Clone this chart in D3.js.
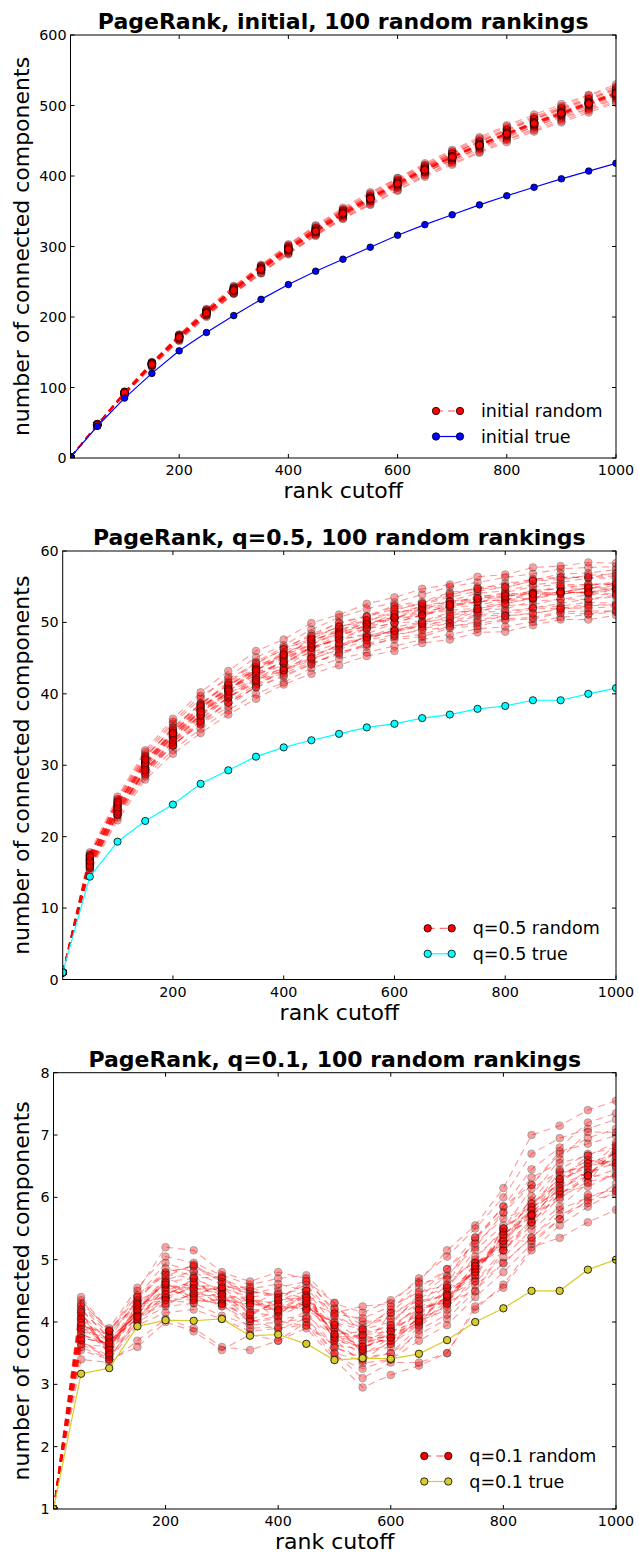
<!DOCTYPE html>
<html>
<head>
<meta charset="utf-8">
<script src="https://cdn.jsdelivr.net/npm/d3@7"></script>
<style>
  body { margin: 0; background: #fff; }
  svg text { font-family: "DejaVu Sans", sans-serif; fill: #000; }
</style>
</head>
<body>
<svg id="fig" width="639" height="1554"></svg>
<script>
// Rank cutoffs shared by all three panels
const cutoffs = [1, 50, 100, 150, 200, 250, 300, 350, 400, 450, 500, 550, 600, 650, 700, 750, 800, 850, 900, 950, 1000];
const xTickValues = [200, 400, 600, 800, 1000];

// Panel 1: initial graph
const initialTrue = [1, 45, 85, 120, 152, 178, 202, 225, 246, 265, 282, 299, 316, 331, 345, 359, 372, 384, 396, 407, 418];
const initialRandom = [
  [1,48,94,135,174,209,242,272,301,327,352,374,395,415,434,451,467,483,497,511,525],
  [1,46,90,130,168,202,234,263,291,317,341,362,383,402,420,437,452,467,481,495,509],
  [1,47,93,133,172,208,239,270,299,324,350,371,393,412,431,449,464,480,494,507,522],
  [1,47,91,132,169,205,236,266,293,320,344,364,386,405,423,441,456,470,485,498,513],
  [1,48,93,135,172,206,239,268,295,322,348,370,390,411,430,446,461,477,492,505,520],
  [1,46,92,132,171,207,240,271,298,325,351,371,391,412,429,445,462,476,489,504,517],
  [1,48,92,134,173,209,240,269,298,323,347,367,389,408,425,443,458,472,487,502,515],
  [1,47,94,136,175,211,244,273,302,329,353,375,397,416,435,453,470,484,499,514,527],
  [1,46,89,129,166,200,233,262,289,316,340,360,380,401,418,434,451,465,478,493,506],
  [1,47,92,133,171,206,238,268,296,322,347,368,389,409,427,444,460,475,489,503,517],
  [1,48,93,134,173,208,241,271,299,326,351,372,394,414,432,449,466,481,495,509,523],
  [1,46,91,131,169,203,235,266,295,320,345,367,389,408,427,445,460,474,487,500,515],
  [1,47,93,134,170,205,238,269,296,321,345,365,387,406,423,439,454,470,483,496,511],
  [1,48,94,136,174,210,241,272,299,326,350,370,392,413,432,448,465,481,496,509,524],
  [1,46,91,133,172,206,237,267,294,319,343,364,384,405,422,440,457,473,486,501,516],
  [1,47,90,131,168,203,234,265,292,318,344,366,386,407,426,442,459,475,490,505,518],
  [1,48,93,135,173,207,240,271,300,325,349,369,391,410,427,443,460,476,491,504,519],
  [1,46,92,134,173,208,241,270,297,322,346,368,390,411,428,444,459,473,488,501,514],
  [1,47,93,135,175,211,243,274,303,330,355,377,397,418,437,455,472,487,502,515,530],
  [1,46,90,131,167,202,233,262,290,315,339,359,379,399,416,433,448,463,476,490,504],
  [1,47,92,134,172,207,239,269,297,323,348,369,390,410,428,445,461,476,490,504,518],
  [1,47,91,132,170,205,237,267,295,321,346,367,388,408,426,443,459,474,488,502,516],
  [1,48,93,133,171,207,238,269,296,323,347,369,389,410,427,445,460,476,489,504,517],
  [1,46,92,133,170,206,237,268,295,322,346,368,388,409,426,444,459,475,488,503,516],
  [1,47,92,134,171,206,239,268,297,322,348,368,390,409,428,444,461,475,490,503,518],
  [1,47,93,132,172,205,238,267,296,321,347,367,389,408,427,443,460,474,489,502,517]
];

// Panel 2: q = 0.5
const q05True = [1, 14.4, 19.3, 22.2, 24.5, 27.4, 29.3, 31.2, 32.5, 33.5, 34.4, 35.3, 35.8, 36.6, 37.1, 37.9, 38.3, 39.1, 39.1, 40.0, 40.8];
const q05Random = [
  [1,17.3,25.2,31.5,35.8,39.3,42.4,45.1,46.8,49.0,50.7,51.9,52.8,53.9,55.0,55.6,56.3,56.8,57.5,57.7,57.8],
  [1,15.6,22.7,28.4,32.1,35.1,37.7,40.0,41.6,43.6,44.9,45.8,46.7,47.6,48.3,49.1,49.4,50.1,50.7,51.1,51.5],
  [1,16.8,24.6,30.4,34.8,37.8,41.0,43.7,45.2,47.5,48.8,50.3,51.2,52.3,53.0,54.1,54.4,55.3,55.6,56.2,56.2],
  [1,16.1,23.8,29.4,33.7,36.5,39.6,41.7,43.3,45.5,46.6,47.9,48.6,49.7,50.2,51.1,51.3,52.1,52.3,52.8,52.7],
  [1,17.6,24.9,31.3,35.0,38.7,41.2,43.4,45.6,47.2,48.4,49.9,50.7,51.2,52.5,52.9,53.2,54.1,54.2,54.8,54.6],
  [1,15.3,23.2,29.5,33.1,36.9,40.0,42.1,44.2,46.5,47.7,49.2,50.6,51.0,52.2,53.3,53.5,54.5,54.7,55.4,55.4],
  [1,16.5,24.4,31.0,35.4,38.5,41.7,44.5,46.5,48.1,50.0,50.9,52.4,52.9,54.2,54.7,55.5,55.9,56.8,56.9,57.4],
  [1,17.0,23.7,29.1,32.8,35.8,38.8,40.9,42.4,44.1,45.9,46.6,47.9,48.3,49.5,49.8,50.5,50.7,51.5,51.6,51.6],
  [1,16.3,24.2,30.1,33.8,37.6,40.2,42.3,44.8,46.4,47.6,49.1,49.9,51.1,51.7,52.0,53.0,53.3,54.2,54.2,54.8],
  [1,17.2,25.3,31.8,36.1,39.7,42.1,44.2,46.3,47.7,49.5,50.1,51.5,51.8,53.0,53.2,54.0,54.1,54.9,54.7,55.2],
  [1,15.9,23.0,28.6,32.9,35.7,38.2,41.1,43.2,44.7,46.5,48.0,48.8,50.0,50.6,51.7,51.9,53.0,53.2,53.9,53.9],
  [1,16.7,24.7,30.3,34.6,38.3,40.7,42.9,44.3,46.6,47.6,48.4,49.9,50.2,51.4,51.6,52.4,52.5,53.3,53.2,53.6],
  [1,16.0,23.9,30.4,34.1,37.0,39.4,42.2,43.6,45.1,46.9,47.6,49.0,49.4,49.9,50.9,51.0,51.9,52.0,52.5,52.4],
  [1,17.8,25.6,32.1,36.5,40.2,43.2,46.0,47.6,49.9,51.1,52.6,53.5,54.7,55.3,56.4,56.7,57.7,57.9,58.4,58.3],
  [1,15.2,22.3,28.0,31.6,34.5,37.1,39.3,41.3,42.8,44.0,45.3,46.0,47.1,47.6,48.6,48.7,49.6,50.4,50.4,51.0],
  [1,16.6,23.5,29.0,33.3,37.1,40.4,43.3,45.4,46.9,48.7,49.4,50.8,52.0,52.6,53.7,53.9,54.2,55.1,55.1,55.7],
  [1,15.7,23.7,30.2,34.6,38.2,40.6,42.7,44.2,46.4,48.2,49.7,50.5,50.9,52.1,52.4,53.2,53.4,54.3,54.1,54.6],
  [1,16.9,24.1,29.7,34.2,37.9,41.2,43.4,44.9,47.2,49.1,49.8,50.6,51.8,52.4,52.8,53.7,54.0,54.2,54.9,54.8],
  [1,16.2,23.1,29.4,32.7,36.3,39.5,41.5,42.9,44.4,45.5,46.9,47.6,48.0,49.2,49.5,50.3,50.5,51.3,51.2,51.7],
  [1,17.4,24.5,30.8,34.4,37.2,40.4,43.6,45.8,48.1,49.3,50.8,52.2,52.6,53.8,54.9,55.1,56.1,56.3,56.3,56.9],
  [1,17.4,25.0,31.2,35.2,38.6,41.3,43.9,45.5,47.5,48.7,49.9,50.7,51.5,52.2,52.9,53.2,53.8,54.0,54.3,54.3],
  [1,15.6,23.0,28.8,32.8,36.0,38.9,41.3,43.3,45.1,46.9,47.9,49.3,50.1,51.2,51.9,52.7,53.3,54.0,54.3,54.8],
  [1,16.7,24.4,30.6,34.9,38.4,41.5,44.3,46.2,48.4,49.9,50.8,51.9,52.5,53.5,54.4,54.9,55.8,56.3,56.3,56.5],
  [1,16.3,23.6,29.4,33.2,36.2,38.7,40.9,42.6,44.2,45.7,47.0,48.1,49.1,49.9,50.4,50.9,51.3,51.8,52.3,52.5],
  [1,17.0,24.5,30.3,34.0,36.9,39.5,41.8,43.7,46.1,48.0,49.6,51.2,52.2,52.9,53.4,54.2,55.0,55.3,55.3,55.3],
  [1,16.0,23.5,29.7,34.0,37.7,40.7,43.4,45.1,46.5,47.6,48.2,48.8,49.4,50.5,51.4,51.6,52.0,52.7,53.3,53.8],
  [1,16.5,24.1,30.3,34.5,38.1,40.7,43.0,44.4,45.8,47.1,47.9,48.8,49.8,50.9,51.9,52.6,53.5,54.3,54.8,55.5],
  [1,16.6,23.9,30.0,34.3,37.5,40.5,42.6,44.6,47.0,48.3,49.1,50.0,51.0,52.5,53.4,53.7,54.0,54.3,54.1,54.0],
  [1,15.8,23.2,29.3,33.5,37.1,40.3,43.2,45.5,47.7,49.4,50.3,51.7,52.7,54.0,54.7,54.9,55.8,56.0,56.6,56.8],
  [1,17.2,24.8,30.8,34.5,37.5,39.9,42.0,43.3,44.9,46.2,47.5,48.3,48.9,49.4,50.1,50.9,51.2,52.0,52.0,52.2]
];

// Panel 3: q = 0.1
const q01True = [1, 3.17, 3.26, 3.93, 4.03, 4.02, 4.05, 3.78, 3.80, 3.65, 3.39, 3.42, 3.41, 3.49, 3.71, 4.00, 4.22, 4.50, 4.50, 4.84, 5.00];
const q01Random = [
  [1,4.25,3.80,4.35,4.80,4.90,4.70,4.50,4.40,4.60,4.10,3.90,4.10,4.40,4.75,5.20,5.75,6.20,6.70,6.95,7.10],
  [1,3.70,3.45,4.00,4.25,4.30,4.10,3.95,4.00,4.05,3.60,3.40,3.50,3.80,4.05,4.50,4.95,5.35,5.80,6.00,6.15],
  [1,4.05,3.55,4.30,4.60,4.45,4.55,4.40,4.15,4.30,3.95,3.55,3.90,4.25,4.30,4.95,5.20,5.90,6.30,6.60,6.55],
  [1,3.85,3.75,4.10,4.40,4.70,4.30,4.10,4.35,4.50,3.75,3.80,3.65,3.95,4.55,4.70,5.45,5.60,6.05,6.35,6.75],
  [1,4.15,3.50,4.25,4.70,4.55,4.45,4.35,4.30,4.20,3.90,3.70,3.85,4.30,4.45,4.80,5.50,5.85,6.40,6.50,6.60],
  [1,3.75,3.65,4.15,4.35,4.60,4.50,4.20,4.20,4.45,3.70,3.60,3.75,3.95,4.35,4.95,5.15,5.65,6.10,6.45,6.85],
  [1,4.35,3.85,4.40,4.95,4.80,4.60,4.45,4.55,4.65,4.20,3.95,4.15,4.55,4.85,5.35,5.85,6.45,6.80,7.20,7.35],
  [1,3.55,3.40,3.95,4.15,4.20,4.05,3.85,3.90,3.95,3.45,3.25,3.40,3.70,3.95,4.40,4.80,5.25,5.65,5.95,6.05],
  [1,4.00,3.60,4.20,4.50,4.65,4.35,4.30,4.20,4.30,3.85,3.75,3.75,4.05,4.40,4.85,5.30,5.70,6.15,6.40,6.55],
  [1,3.90,3.70,4.05,4.55,4.40,4.45,4.15,4.30,4.40,3.80,3.55,3.85,4.15,4.40,4.75,5.40,5.80,6.25,6.55,6.70],
  [1,4.10,3.55,4.30,4.40,4.55,4.25,4.30,4.25,4.20,4.00,3.70,3.70,4.00,4.30,4.90,5.25,5.60,6.05,6.30,6.45],
  [1,3.80,3.65,4.20,4.65,4.70,4.50,4.15,4.10,4.50,3.70,3.80,3.95,4.20,4.60,5.00,5.50,5.95,6.45,6.70,6.80],
  [1,4.20,3.75,4.10,4.30,4.45,4.40,4.40,4.45,4.25,3.95,3.50,3.65,4.05,4.25,4.65,5.15,5.55,6.00,6.25,6.35],
  [1,3.95,3.50,4.25,4.60,4.50,4.30,4.05,4.15,4.35,3.80,3.85,3.90,4.10,4.50,4.80,5.40,5.75,6.20,6.40,6.65],
  [1,3.65,3.60,4.15,4.45,4.60,4.55,4.25,4.35,4.40,3.90,3.65,3.80,4.20,4.35,4.85,5.30,5.80,6.35,6.60,6.50],
  [1,4.05,3.70,4.05,4.55,4.35,4.30,4.35,4.20,4.30,3.75,3.60,3.75,4.00,4.45,4.90,5.35,5.70,6.15,6.35,6.75],
  [1,4.30,3.90,4.55,5.05,4.95,4.75,4.60,4.70,4.75,4.30,4.15,4.35,4.65,5.15,5.55,6.15,7.00,7.15,7.40,7.55],
  [1,3.40,3.35,3.70,4.05,3.90,3.60,3.55,3.70,3.90,3.40,2.95,3.15,3.30,3.50,4.20,4.60,5.20,5.35,5.60,5.80],
  [1,4.40,3.85,4.50,5.20,5.15,4.80,4.65,4.80,4.70,4.15,4.25,4.30,4.70,5.05,5.50,6.00,6.70,6.95,7.10,7.25],
  [1,3.60,3.40,3.60,4.00,3.85,3.55,3.80,3.70,4.00,3.50,3.10,3.35,3.35,3.50,4.25,4.55,5.15,5.55,5.85,6.10],
  [1,4.27,3.85,4.43,4.79,4.89,4.64,4.49,4.44,4.54,4.08,3.88,4.00,4.39,4.55,5.05,5.45,5.90,6.23,6.54,6.55],
  [1,3.64,3.44,4.00,4.38,4.35,4.35,4.01,4.05,4.10,3.77,3.47,3.75,4.06,4.42,4.80,5.40,5.72,6.29,6.48,6.71],
  [1,4.13,3.68,4.18,4.67,4.82,4.70,4.38,4.26,4.22,3.99,3.88,4.20,4.62,4.72,5.31,5.86,6.20,6.74,6.86,6.99],
  [1,3.81,3.60,4.25,4.51,4.42,4.26,4.01,4.09,4.30,3.72,3.34,3.40,3.87,4.12,4.59,4.94,5.36,5.72,5.91,6.22],
  [1,3.95,3.79,4.33,4.60,4.53,4.53,4.53,4.61,4.50,3.95,3.52,3.60,4.11,4.55,5.16,5.55,5.72,5.97,6.35,6.66],
  [1,4.06,3.50,4.03,4.44,4.64,4.43,4.05,3.88,4.06,3.50,3.38,3.70,4.20,4.33,4.49,5.15,5.60,6.29,6.67,6.49],
  [1,3.71,3.39,4.10,4.73,4.92,4.64,4.30,4.18,4.42,4.22,4.01,4.05,4.29,4.68,4.95,5.25,6.02,6.61,7.05,7.04],
  [1,4.20,3.74,4.35,4.86,4.74,4.45,4.12,4.35,4.66,4.31,3.79,3.85,4.01,4.20,4.75,5.50,6.14,6.42,6.35,6.33],
  [1,3.88,3.87,4.28,4.35,4.31,4.37,4.27,4.48,4.38,3.81,3.61,3.95,4.44,4.85,5.26,5.66,5.84,6.10,6.17,6.38],
  [1,3.99,3.55,4.40,4.76,4.71,4.72,4.42,4.01,3.94,3.63,3.56,4.15,4.34,4.42,4.65,5.04,5.48,5.85,6.23,6.82],
  [1,3.74,3.66,4.08,4.28,4.46,4.56,4.56,4.39,4.34,4.13,4.06,4.25,4.48,4.59,5.36,5.76,6.32,6.55,6.67,6.88],
  [1,4.16,3.47,4.20,4.63,4.38,4.29,3.90,3.92,4.18,3.59,3.43,3.50,3.92,4.29,4.90,5.30,5.30,5.65,6.04,6.11]
];

const yTicksInitial = [0, 100, 200, 300, 400, 500, 600];
const yTicksQ05 = [0, 10, 20, 30, 40, 50, 60];
const yTicksQ01 = [1, 2, 3, 4, 5, 6, 7, 8];

// Layout and styling of each subplot
const panels = [
  { title: "PageRank, initial, 100 random rankings", left: 70.5, right: 616, top: 35, bottom: 458,
    yDomain: [0, 600], yTicks: yTicksInitial, runs: initialRandom, truth: initialTrue,
    trueColor: "#0000ff", trueR: 3.3, labels: ["initial random", "initial true"],
    legendX: 436, legendY: 411 },
  { title: "PageRank, q=0.5, 100 random rankings", left: 62.7, right: 616, top: 551, bottom: 979.5,
    yDomain: [0, 60], yTicks: yTicksQ05, runs: q05Random, truth: q05True,
    trueColor: "#00ffff", trueR: 3.6, labels: ["q=0.5 random", "q=0.5 true"],
    legendX: 427.7, legendY: 928.3 },
  { title: "PageRank, q=0.1, 100 random rankings", left: 53.5, right: 616, top: 1072.7, bottom: 1509,
    yDomain: [1, 8], yTicks: yTicksQ01, runs: q01Random, truth: q01True,
    trueColor: "#d8cc2c", trueR: 3.7, labels: ["q=0.1 random", "q=0.1 true"],
    legendX: 424.3, legendY: 1456 }
];

const svg = d3.select("#fig");
const tickLen = 4;

panels.forEach((p, i) => {
  const x = d3.scaleLinear().domain([1, 1000]).range([p.left, p.right]);
  const y = d3.scaleLinear().domain(p.yDomain).range([p.bottom, p.top]);
  const g = svg.append("g");

  const clipId = "clip" + i;
  svg.append("clipPath").attr("id", clipId)
    .append("rect").attr("x", p.left).attr("y", p.top)
    .attr("width", p.right - p.left).attr("height", p.bottom - p.top);

  const plot = g.append("g").attr("clip-path", `url(#${clipId})`);
  const line = d3.line().x((d, k) => x(cutoffs[k])).y(d => y(d));

  // random rankings: translucent dashed red lines with translucent markers
  p.runs.forEach(run => {
    plot.append("path").datum(run).attr("d", line)
      .attr("fill", "none").attr("stroke", "#ff0000").attr("stroke-width", 1.1)
      .attr("stroke-dasharray", "7,5").attr("stroke-opacity", 0.4);
    plot.append("g").attr("opacity", 0.38).selectAll("circle").data(run).join("circle")
      .attr("cx", (d, k) => x(cutoffs[k])).attr("cy", d => y(d)).attr("r", 3.8)
      .attr("fill", "#ff0000").attr("stroke", "#000").attr("stroke-width", 0.9);
  });

  // true ranking
  plot.append("path").datum(p.truth).attr("d", line)
    .attr("fill", "none").attr("stroke", p.trueColor).attr("stroke-width", 1.2);
  plot.append("g").selectAll("circle").data(p.truth).join("circle")
    .attr("cx", (d, k) => x(cutoffs[k])).attr("cy", d => y(d)).attr("r", p.trueR)
    .attr("fill", p.trueColor).attr("stroke", "#000").attr("stroke-width", 0.8);

  // frame
  g.append("rect").attr("x", p.left).attr("y", p.top)
    .attr("width", p.right - p.left).attr("height", p.bottom - p.top)
    .attr("fill", "none").attr("stroke", "#000").attr("stroke-width", 1);

  // inward ticks on all four sides
  const ticks = g.append("g").attr("stroke", "#000").attr("stroke-width", 1);
  xTickValues.forEach(v => {
    ticks.append("line").attr("x1", x(v)).attr("x2", x(v)).attr("y1", p.bottom).attr("y2", p.bottom - tickLen);
    ticks.append("line").attr("x1", x(v)).attr("x2", x(v)).attr("y1", p.top).attr("y2", p.top + tickLen);
  });
  p.yTicks.forEach(v => {
    ticks.append("line").attr("x1", p.left).attr("x2", p.left + tickLen).attr("y1", y(v)).attr("y2", y(v));
    ticks.append("line").attr("x1", p.right).attr("x2", p.right - tickLen).attr("y1", y(v)).attr("y2", y(v));
  });

  g.append("g").selectAll("text").data(xTickValues).join("text")
    .attr("x", d => x(d)).attr("y", p.bottom + 17).attr("text-anchor", "middle")
    .attr("font-size", 14.3).text(d => d);
  g.append("g").selectAll("text").data(p.yTicks).join("text")
    .attr("x", p.left - 4).attr("y", d => y(d) + 5).attr("text-anchor", "end")
    .attr("font-size", 14.3).text(d => d);

  // title and axis labels
  const cx = (p.left + p.right) / 2;
  g.append("text").attr("x", cx).attr("y", p.top - 6).attr("text-anchor", "middle")
    .attr("font-size", 22).attr("font-weight", "bold").text(p.title);
  g.append("text").attr("x", cx).attr("y", p.bottom + 40).attr("text-anchor", "middle")
    .attr("font-size", 22).text("rank cutoff");
  g.append("text").attr("transform", `translate(29,${(p.top + p.bottom) / 2}) rotate(-90)`)
    .attr("text-anchor", "middle").attr("font-size", 22).text("number of connected components");

  // legend
  const lg = g.append("g");
  const lx0 = p.legendX, lx1 = p.legendX + 24;
  [0, 1].forEach(j => {
    const ly = p.legendY + j * 25.5;
    const col = j === 0 ? "#ff0000" : p.trueColor;
    lg.append("line").attr("x1", lx0).attr("x2", lx1).attr("y1", ly).attr("y2", ly)
      .attr("stroke", col).attr("stroke-width", j === 0 ? 1 : 1.2)
      .attr("stroke-dasharray", j === 0 ? "7,5" : null)
      .attr("stroke-opacity", j === 0 ? 0.7 : 1);
    [lx0, lx1].forEach(mx => lg.append("circle").attr("cx", mx).attr("cy", ly).attr("r", 3.7)
      .attr("fill", col).attr("stroke", "#000").attr("stroke-width", 0.8));
    lg.append("text").attr("x", lx1 + 21).attr("y", ly + 6).attr("font-size", 17.5).text(p.labels[j]);
  });
});
</script>
</body>
</html>
